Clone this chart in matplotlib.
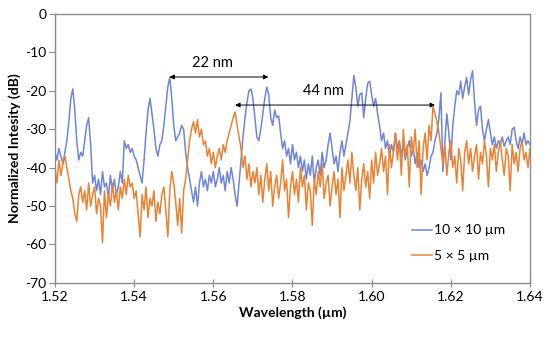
import numpy as np
import matplotlib
matplotlib.use('Agg')
import matplotlib.pyplot as plt

plt.rcParams['font.family'] = ['Lato', 'DejaVu Sans']
plt.rcParams['axes.unicode_minus'] = False

# 10 x 10 um spectrum (dB), 0.5 nm steps from 1.520 to 1.640 um
blue_db = [
    -36, -38, -35, -37, -39, -36,
    -33, -28, -22, -19.5, -25, -33, -38, -36, -37, -33, -29, -27, -34, -44,
    -42, -46, -43, -47, -41, -45, -44, -48, -42, -46, -43, -47, -45, -41, -44,
    -33, -35, -34, -36, -35, -37, -38, -40, -42, -44,
    -38, -31, -25, -22, -26, -30, -35, -37, -34, -33,
    -29, -24, -19, -16.5, -22, -29, -33, -32, -31, -29,
    -30, -36, -40,
    -43, -46, -49, -45, -50, -44, -41, -45, -43, -46,
    -42, -44, -41, -45, -43, -40, -44, -42, -46, -41,
    -44, -40, -43, -47, -50, -44, -38,
    -32, -27, -23, -20, -19.5, -22, -27, -32, -33, -30,
    -26, -22, -19, -21, -27, -29, -25, -27, -26.5, -31,
    -35, -33,
    -37, -35, -39, -34, -38, -36, -40, -37, -41, -38,
    -43, -39, -42, -37, -44, -40, -38, -42, -36, -40,
    -38, -34, -31, -35, -39, -37, -41, -36, -33, -37,
    -34, -31, -28,
    -22, -16, -19, -24, -21, -20.5, -27, -22, -18, -17.5, -21, -24, -22, -26, -29, -33,
    -31, -35, -33, -37, -34, -36, -31, -35, -33, -37,
    -34, -38, -35, -33, -37, -35, -39, -36, -40, -38,
    -41, -39, -42, -40, -37,
    -36, -33, -31, -27, -20.5, -41, -33, -26, -31, -38,
    -29, -24, -20, -21, -17.5, -22, -19, -16.5, -21, -17,
    -14.8, -23, -29, -25, -24, -30, -33, -30, -27.5, -31,
    -34, -32, -35, -33, -34, -32, -34.5, -33, -32, -34,
    -30, -29.5, -33, -35, -32, -34, -31, -34, -33, -34,
]

# 5 x 5 um spectrum (dB), same grid
orange_db = [
    -40, -44, -38, -42, -39, -37, -40,
    -43, -46, -48, -52, -54, -47,
    -45, -49, -46, -51, -44, -50, -47, -45, -52, -48,
    -50, -59.5, -46, -53, -47, -50, -44, -49, -46, -51,
    -45, -48,
    -43, -47, -42, -45, -44, -48, -46, -52, -58,
    -47, -51, -45, -53, -48, -50, -46, -54, -49, -52, -47, -45, -51, -58, -46,
    -41, -44, -49, -55, -48, -57, -46, -43,
    -38, -33, -30, -28, -31, -27.5, -32, -30, -34, -33,
    -37, -35, -39, -36, -40, -37, -35, -38, -34, -36,
    -33, -31, -29, -27, -25.5, -29, -32, -35,
    -40, -37, -43, -39, -45, -41,
    -44, -40, -47, -42, -49, -43, -39, -46, -41, -50,
    -45, -42, -48, -44, -38, -46, -43, -53, -45, -41,
    -47, -43, -49, -40, -45, -42, -51, -44, -46, -55,
    -43, -47, -41, -45, -39, -48, -44, -42, -50, -45,
    -41, -47, -43, -53, -40, -46, -42, -38, -44, -36,
    -42, -46, -40, -51, -43, -39, -45, -41, -48, -38,
    -44, -36, -42, -39, -35, -41, -37, -47, -34, -40,
    -36, -31, -38, -33, -42, -30, -37, -34, -45, -32,
    -36, -30, -40, -33, -47, -35, -31, -38, -29, -33,
    -24, -26, -28, -31, -35,
    -39, -34, -42, -36, -33, -40, -37, -44, -35, -38,
    -46, -36, -33, -39, -35, -41, -37, -34, -43, -36,
    -39, -33, -37, -45, -35, -38, -34, -41, -36, -33,
    -38, -42, -35, -37, -46, -34, -39, -36, -41, -35,
    -33, -38, -36, -40, -35,
]

wl_blue = np.linspace(1.52, 1.64, len(blue_db))
wl_orange = np.linspace(1.52, 1.64, len(orange_db))

fig = plt.figure(figsize=(5.5, 3.38), dpi=100)
ax = fig.add_axes([0.1, 0.163, 0.8636, 0.7956])

ax.plot(wl_blue, blue_db, color='#6f86d6', lw=1.1, label='10 × 10 µm')
ax.plot(wl_orange, orange_db, color='#e98232', lw=1.1, label='5 × 5 µm')

ax.set_xlim(1.52, 1.64)
ax.set_ylim(-70, 0)
ax.set_xticks([1.52, 1.54, 1.56, 1.58, 1.60, 1.62, 1.64])
ax.set_xticklabels(['1.52', '1.54', '1.56', '1.58', '1.60', '1.62', '1.64'])
ax.set_yticks(range(-70, 1, 10))

for s in ax.spines.values():
    s.set_color('#8c8c8c')
    s.set_linewidth(1.0)
ax.tick_params(axis='x', direction='inout', length=6, color='#8c8c8c', labelsize=10, pad=3)
ax.tick_params(axis='y', direction='out', length=4, color='#8c8c8c', labelsize=10, pad=2)

ax.set_xlabel('Wavelength (µm)', fontsize=10, fontweight='bold', labelpad=2)
ax.set_ylabel('Normalized Intesity (dB)', fontsize=10, fontweight='bold', labelpad=3)

# spacing arrows
arrow = dict(arrowstyle='<|-|>', color='black', lw=0.7, mutation_scale=7, shrinkA=0, shrinkB=0)
ax.annotate('', xy=(1.5739, -16.4), xytext=(1.5489, -16.4), arrowprops=arrow)
ax.annotate('', xy=(1.6160, -23.7), xytext=(1.5655, -23.7), arrowprops=arrow)
ax.text(1.5597, -12.8, '22 nm', fontsize=10.5, ha='center', va='center')
ax.text(1.5877, -20.0, '44 nm', fontsize=10.5, ha='center', va='center')

ax.legend(loc='lower right', bbox_to_anchor=(0.975, 0.03), frameon=False, fontsize=10,
          handlelength=1.4, handletextpad=0.2, labelspacing=1.0)

fig.savefig('out.png', dpi=100)
